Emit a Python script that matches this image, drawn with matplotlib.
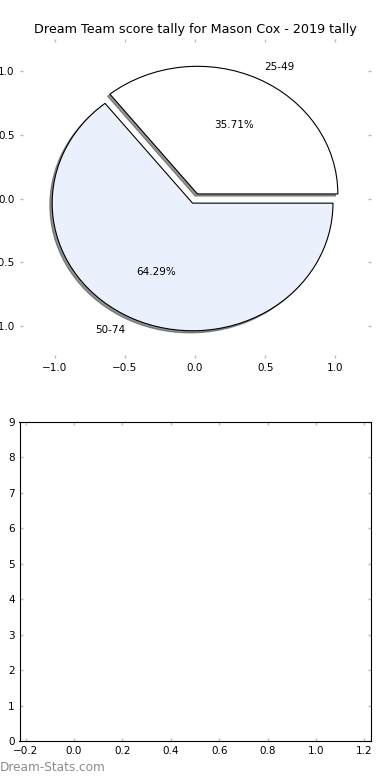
import matplotlib
matplotlib.use('Agg')
import matplotlib.pyplot as plt
import numpy as np

labels = ['25-49', '50-74']
values = [5, 9]
colors = ['#ffffff', '#eaf0fc']
title = 'Dream Team score tally for Mason Cox - 2019 tally'


def style_ticks(ax):
    ax.tick_params(direction='in', length=2, width=1, color='#bbbbbb',
                   labelsize=7.5, pad=3.5, top=True, right=True)


fig, (ax1, ax2) = plt.subplots(2, 1, figsize=(3.9, 7.8), dpi=100)
fig.subplots_adjust(left=0.05, right=0.95, bottom=0.05, top=0.95, hspace=0.2)

wedges, texts, autotexts = ax1.pie(values, labels=labels, colors=colors,
                                   explode=[0.04, 0.04], autopct='%1.2f%%',
                                   shadow={'ox': -0.012, 'oy': -0.012, 'alpha': 0.6},
                                   startangle=0, frame=True,
                                   wedgeprops={'edgecolor': 'black', 'linewidth': 0.8},
                                   textprops={'fontsize': 7.5})
ax1.set_aspect('auto')
ax1.set_xlim(-1.25, 1.25)
ax1.set_ylim(-1.25, 1.25)
ax1.set_xticks(np.arange(-1.0, 1.01, 0.5))
ax1.set_yticks(np.arange(-1.0, 1.01, 0.5))
for s in ax1.spines.values():
    s.set_visible(False)
style_ticks(ax1)
ax1.set_title(title, fontsize=9.2, pad=4)

ax2.set_xlim(-0.225, 1.225)
ax2.set_ylim(0, 9)
ax2.set_xticks(np.arange(-0.2, 1.21, 0.2))
ax2.set_yticks(range(0, 10))
style_ticks(ax2)

fig.text(0.0, 0.012, 'Dream-Stats.com', color='#8c8c8c', fontsize=8.7)

plt.savefig('out.png')
